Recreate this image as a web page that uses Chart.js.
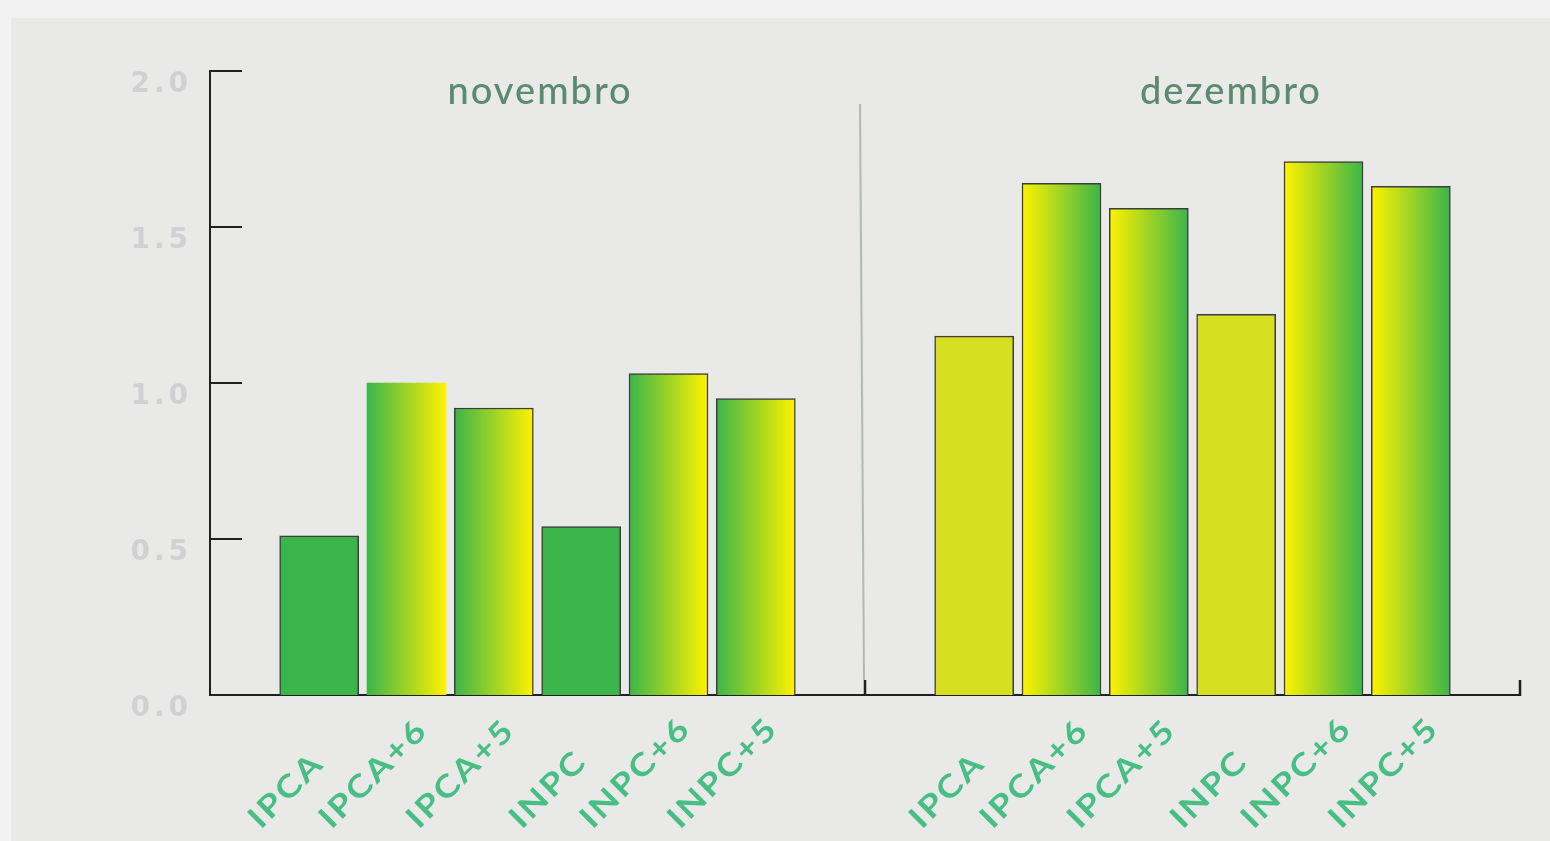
<!DOCTYPE html>
<html>
<head>
<meta charset="utf-8">
<script src="https://cdn.jsdelivr.net/npm/chart.js@4/dist/chart.umd.min.js"></script>
<style>
  html, body { margin: 0; padding: 0; background: #f2f2f2; }
  canvas { display: block; }
</style>
</head>
<body>
<canvas id="chart" width="1550" height="841"></canvas>
<script>
// data
const categories = ['IPCA', 'IPCA+6', 'IPCA+5', 'INPC', 'INPC+6', 'INPC+5'];
const months = ['novembro', 'dezembro'];
const novembro = [0.51, 1.00, 0.92, 0.54, 1.03, 0.95];
const dezembro = [1.15, 1.64, 1.56, 1.22, 1.71, 1.63];
const yTicks = [0, 0.5, 1.0, 1.5, 2.0];

const GREEN = '#3bb54a';
const YELLOW = '#fff200';
const LIME = '#d6e021';
const AXIS = '#231f20';

// x runs 0..15, each month gets half of it, bars one unit apart
const HALF = 7.5;
const BAR_W = 79;
const titleAt = [3.78, 11.69];
const labelShift = [-26, -20];

const bars = [];
[novembro, dezembro].forEach((values, g) => {
  values.forEach((v, i) => {
    bars.push({ x: g * HALF + 1.25 + i, y: v, month: g, cat: i });
  });
});

function barFill(ctx) {
  const b = bars[ctx.dataIndex];
  if (!b) return GREEN;
  if (b.cat % 3 === 0) return b.month === 0 ? GREEN : LIME;
  const chart = ctx.chart;
  if (!chart.chartArea) return GREEN;
  const cx = chart.scales.x.getPixelForValue(b.x);
  const grad = chart.ctx.createLinearGradient(cx - BAR_W / 2, 0, cx + BAR_W / 2, 0);
  const from = b.month === 0 ? GREEN : YELLOW;
  const to = b.month === 0 ? YELLOW : GREEN;
  grad.addColorStop(0, from);
  grad.addColorStop(1, to);
  return grad;
}

const decor = {
  id: 'decor',
  beforeDraw(chart) {
    const { ctx, width, height } = chart;
    ctx.save();
    ctx.fillStyle = '#f2f2f2';
    ctx.fillRect(0, 0, width, height);
    ctx.fillStyle = '#e9e9e7';
    ctx.fillRect(11, 18, width - 11, height - 18);
    ctx.restore();
    // wide look for the y labels
    ctx.letterSpacing = '4px';
  },
  beforeDatasetsDraw(chart) {
    chart.ctx.letterSpacing = '0px';
  },
  afterDraw(chart) {
    const { ctx, chartArea } = chart;
    const x = chart.scales.x;
    const y = chart.scales.y;
    ctx.save();

    // inward ticks on the y axis
    ctx.strokeStyle = AXIS;
    ctx.lineWidth = 2;
    yTicks.forEach((v) => {
      const py = y.getPixelForValue(v);
      ctx.beginPath();
      ctx.moveTo(chartArea.left, py);
      ctx.lineTo(chartArea.left + 32, py);
      ctx.stroke();
    });

    // small upward ticks at the end of each month on the x axis
    ctx.lineWidth = 2.5;
    [HALF, HALF * 2].forEach((v) => {
      const px = x.getPixelForValue(v);
      ctx.beginPath();
      ctx.moveTo(px, chartArea.bottom + 1);
      ctx.lineTo(px, chartArea.bottom - 15);
      ctx.stroke();
    });

    // divider between the months
    const mid = x.getPixelForValue(HALF);
    ctx.strokeStyle = '#b3bab4';
    ctx.lineWidth = 2;
    ctx.beginPath();
    ctx.moveTo(mid - 5, 104);
    ctx.lineTo(mid - 1, chartArea.bottom - 15);
    ctx.stroke();

    // month titles
    ctx.fillStyle = '#5b8b6f';
    ctx.font = '500 38px Lato';
    ctx.letterSpacing = '2px';
    ctx.textAlign = 'center';
    ctx.textBaseline = 'alphabetic';
    months.forEach((m, g) => {
      ctx.fillText(m, x.getPixelForValue(titleAt[g]), 104);
    });

    // rotated category labels
    ctx.fillStyle = '#46be84';
    ctx.font = 'bold 31px Lato';
    ctx.letterSpacing = '2px';
    ctx.textAlign = 'left';
    const stretch = 1.17;
    bars.forEach((b) => {
      const label = categories[b.cat];
      const w = ctx.measureText(label).width * stretch;
      const cx = x.getPixelForValue(b.x) + labelShift[b.month];
      const sx = cx - (w / 2) * Math.SQRT1_2;
      const sy = 830;
      ctx.save();
      ctx.translate(sx, sy);
      ctx.rotate(-Math.PI / 4);
      ctx.scale(stretch, 1);
      ctx.fillText(label, 0, 0);
      ctx.restore();
    });

    ctx.restore();
    ctx.letterSpacing = '0px';
  }
};

const chart = new Chart(document.getElementById('chart'), {
  type: 'bar',
  data: {
    datasets: [{
      data: bars,
      backgroundColor: barFill,
      borderColor: '#3d3d3d',
      borderWidth: (ctx) => {
        const b = bars[ctx.dataIndex];
        return b && b.month === 0 && b.cat === 1 ? 0 : 1.5;
      },
      borderSkipped: 'bottom',
      barThickness: BAR_W
    }]
  },
  options: {
    responsive: false,
    devicePixelRatio: 1,
    animation: false,
    layout: { padding: { top: 71, right: 30, left: 0, bottom: 0 } },
    plugins: {
      legend: { display: false },
      tooltip: { enabled: false }
    },
    scales: {
      x: {
        type: 'linear',
        offset: false,
        min: 0,
        max: HALF * 2,
        ticks: { display: false },
        grid: { display: false, offset: false },
        border: { display: true, color: AXIS, width: 2 },
        afterFit: (s) => { s.height = 146; s.paddingLeft = 0; s.paddingRight = 0; }
      },
      y: {
        min: 0,
        max: 2,
        afterBuildTicks: (s) => { s.ticks = yTicks.map((v) => ({ value: v })); },
        ticks: {
          callback: (v) => Number(v).toFixed(1),
          color: '#d1d1d3',
          font: { family: 'DejaVu Sans', weight: 'bold', size: 28 },
          padding: 10,
          labelOffset: 14
        },
        grid: { display: false },
        border: { display: true, color: AXIS, width: 2 },
        afterFit: (s) => { s.width = 210; s.paddingTop = 0; s.paddingBottom = 0; }
      }
    }
  },
  plugins: [decor]
});
</script>
</body>
</html>
